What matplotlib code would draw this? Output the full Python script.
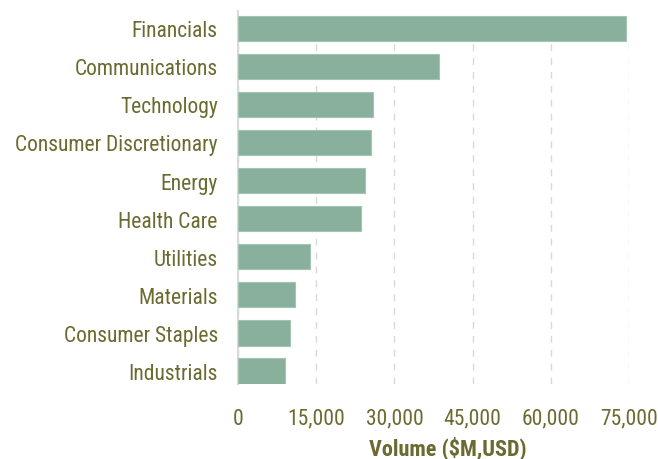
import matplotlib
matplotlib.use("Agg")
import matplotlib.pyplot as plt

sectors = ["Financials", "Communications", "Technology", "Consumer Discretionary",
           "Energy", "Health Care", "Utilities", "Materials", "Consumer Staples",
           "Industrials"]
volume = [74500, 38500, 25800, 25500, 24300, 23600, 13800, 10900, 9950, 9100]
ticks = [0, 15000, 30000, 45000, 60000, 75000]

text_color = "#6b6a30"
bar_color = "#88b09c"

plt.rcParams["font.family"] = ["Roboto Condensed", "Roboto", "DejaVu Sans"]

fig = plt.figure(figsize=(6.58, 4.60), dpi=100)
ax = fig.add_axes([238 / 658, 1 - 385 / 460, 391 / 658, 373 / 460])

pos = list(range(len(sectors)))
ax.barh(pos, volume, height=0.66, color=bar_color, edgecolor="#a3c4b3", linewidth=0.8, zorder=3)
ax.set_ylim(len(sectors) - 1 + 0.34, -0.45)
ax.set_xlim(0, 75000)
ax.set_yticks(pos)
ax.set_yticklabels(sectors, fontsize=15.5, color=text_color)
ax.set_xticks(ticks)
ax.set_xticklabels([f"{t:,}" for t in ticks], fontsize=15.5, color=text_color)
ax.tick_params(axis="both", length=0)
ax.tick_params(axis="y", pad=14.5)
ax.tick_params(axis="x", pad=17)
ax.xaxis.grid(True, color="#d9d9d9", linestyle=(0, (5, 5)), linewidth=1, zorder=0)
ax.set_axisbelow(True)
for s in ["top", "right", "bottom"]:
    ax.spines[s].set_visible(False)
ax.spines["left"].set_color("#d9d9d9")
ax.spines["left"].set_linewidth(1.5)
ax.set_xlabel("Volume ($M,USD)", fontsize=16, fontweight="bold", color=text_color, labelpad=5)
ax.xaxis.label.set_x(0.537)

fig.savefig("out.png", dpi=100)
